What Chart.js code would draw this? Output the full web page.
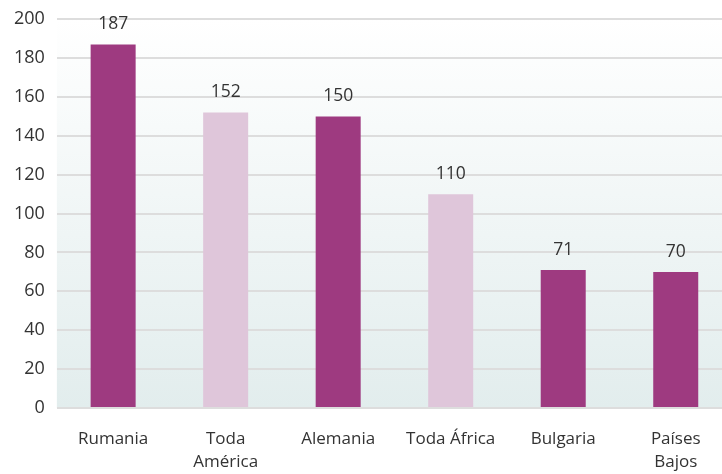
<!DOCTYPE html>
<html lang="es">
	<head>
		<meta charset="UTF-8">
		<script src="https://cdn.jsdelivr.net/npm/chart.js@4.4.1/dist/chart.umd.min.js"></script>
		<title>Chart</title>
		<style>
			html, body { margin: 0; padding: 0; background: #ffffff; overflow: hidden; }
			#wrap { position: relative; width: 732px; height: 474px; }
		</style>
	</head>
	<body>
		<div id="wrap"><canvas id="bar-chart" width="732" height="474"></canvas></div>
		<script>
			// data
			var categories = [["Rumania"], ["Toda", "América"], ["Alemania"], ["Toda África"], ["Bulgaria"], ["Países", "Bajos"]];
			var values = [187, 152, 150, 110, 71, 70];
			var barColours = ["#9e3a80", "#dfc6da", "#9e3a80", "#dfc6da", "#9e3a80", "#9e3a80"];
			var yTicks = [0, 20, 40, 60, 80, 100, 120, 140, 160, 180, 200];

			var fontFamily = "'Open Sans', 'Noto Sans', sans-serif";

			// soft gradient behind the plot area
			var backdrop = {
				id: 'backdrop',
				beforeDraw: function (chart) {
					var a = chart.chartArea;
					var ctx = chart.ctx;
					var g = ctx.createLinearGradient(0, a.top, 0, a.bottom);
					g.addColorStop(0, "#ffffff");
					g.addColorStop(1, "#e2eded");
					ctx.save();
					ctx.fillStyle = g;
					ctx.fillRect(a.left, a.top, a.right - a.left, a.bottom - a.top);
					ctx.restore();
				}
			};

			// numbers above the bars
			var valueLabels = {
				id: 'valueLabels',
				afterDatasetsDraw: function (chart) {
					var ctx = chart.ctx;
					var meta = chart.getDatasetMeta(0);
					ctx.save();
					ctx.font = "17.5px " + fontFamily;
					ctx.fillStyle = "#333333";
					ctx.textAlign = "center";
					ctx.textBaseline = "middle";
					meta.data.forEach(function (bar, i) {
						ctx.fillText(values[i], bar.x, bar.y - 20);
					});
					ctx.restore();
				}
			};

			new Chart(document.getElementById("bar-chart"), {
				type: 'bar',
				data: {
					labels: categories,
					datasets: [{
						data: values,
						backgroundColor: barColours,
						barPercentage: 0.4,
						categoryPercentage: 1.0
					}]
				},
				options: {
					responsive: false,
					animation: false,
					layout: { padding: { top: -3, left: 2, right: 0, bottom: 0 } },
					plugins: {
						legend: { display: false },
						tooltip: { enabled: false }
					},
					scales: {
						x: {
							grid: { display: false, drawTicks: false },
							border: { display: false },
							afterFit: function (axis) { axis.height = 66; },
							ticks: {
								color: "#333333",
								font: { family: fontFamily, size: 17, lineHeight: 1.35 },
								padding: 20,
								maxRotation: 0,
								autoSkip: false
							}
						},
						y: {
							min: 0,
							max: 200,
							afterBuildTicks: function (axis) {
								axis.ticks = yTicks.map(function (v) { return { value: v }; });
							},
							grid: { color: "#dddddd", lineWidth: 2, drawTicks: false },
							border: { display: false },
							ticks: {
								color: "#333333",
								font: { family: fontFamily, size: 18, lineHeight: 0.8 },
								padding: 12
							}
						}
					}
				},
				plugins: [backdrop, valueLabels]
			});
		</script>
	</body>
</html>
